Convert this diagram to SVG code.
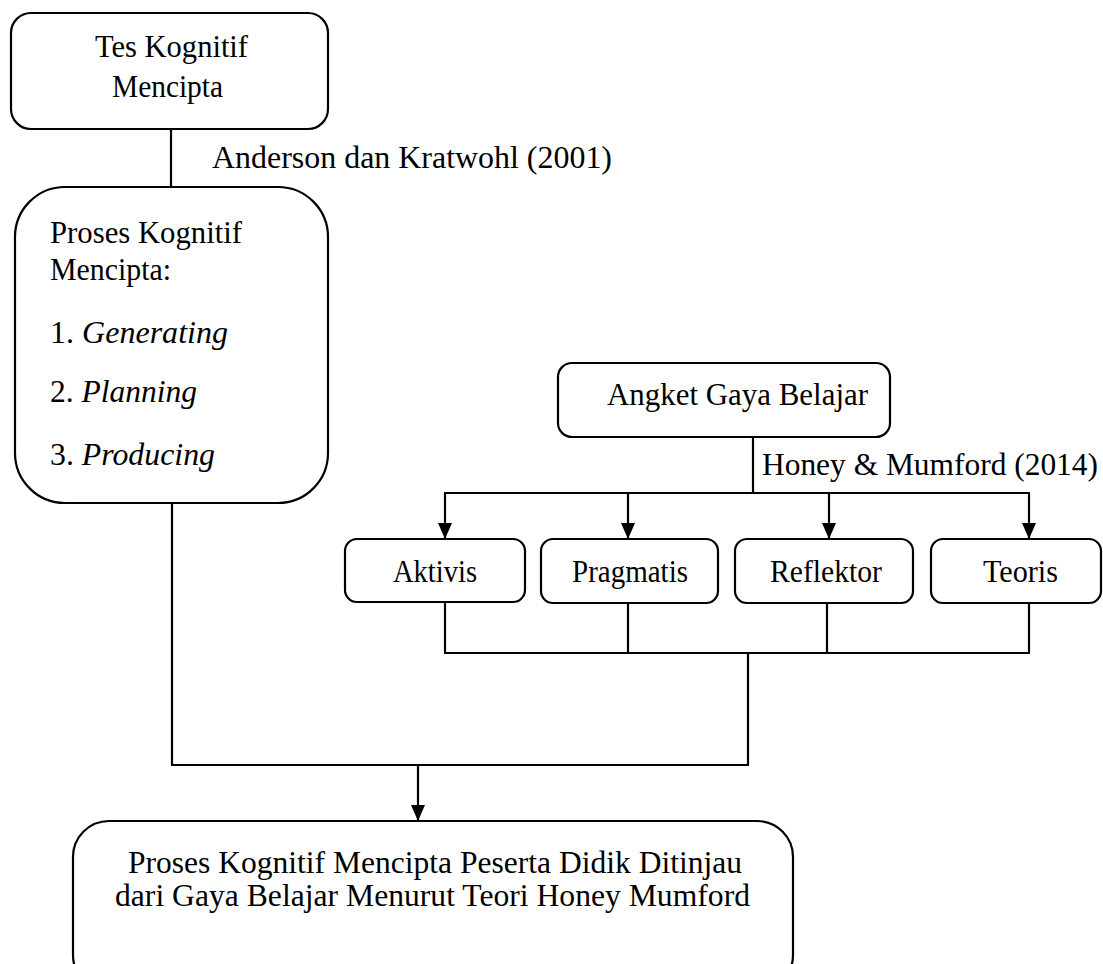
<svg xmlns="http://www.w3.org/2000/svg" width="1103" height="964" viewBox="0 0 1103 964" font-family="'Liberation Serif', 'Times New Roman', Times, serif">
<style>
.box{fill:#fff;stroke:#000;stroke-width:2.2}
.ln{fill:none;stroke:#000;stroke-width:2.2}
text{font-family:'Liberation Serif','Times New Roman',Times,serif;font-size:32px;fill:#000}
.it{font-style:italic}
</style>
<defs>
<marker id="arr" viewBox="0 0 16 14" refX="16" refY="7" markerWidth="16" markerHeight="14" markerUnits="userSpaceOnUse" orient="auto">
<path d="M0,0 L16,7 L0,14 Z" fill="#000"/>
</marker>
</defs>
<rect width="1103" height="964" fill="#fff"/>
<g id="connectors">
<line class="ln" x1="171" y1="129" x2="171" y2="187"/>
<line class="ln" x1="172" y1="503" x2="172" y2="765"/>
<line class="ln" x1="171" y1="765" x2="749" y2="765"/>
<line class="ln" x1="748" y1="653" x2="748" y2="765"/>
<line class="ln" x1="418" y1="765" x2="418" y2="821" marker-end="url(#arr)"/>
<line class="ln" x1="753" y1="437" x2="753" y2="493"/>
<line class="ln" x1="444" y1="493" x2="1030" y2="493"/>
<line class="ln" x1="445" y1="493" x2="445" y2="539" marker-end="url(#arr)"/>
<line class="ln" x1="628" y1="493" x2="628" y2="539" marker-end="url(#arr)"/>
<line class="ln" x1="829" y1="493" x2="829" y2="539" marker-end="url(#arr)"/>
<line class="ln" x1="1029" y1="493" x2="1029" y2="539" marker-end="url(#arr)"/>
<line class="ln" x1="445" y1="602" x2="445" y2="653"/>
<line class="ln" x1="628" y1="603" x2="628" y2="653"/>
<line class="ln" x1="827" y1="603" x2="827" y2="653"/>
<line class="ln" x1="1029" y1="603" x2="1029" y2="653"/>
<line class="ln" x1="444" y1="653" x2="1030" y2="653"/>
<text x="212" y="168" textLength="400" lengthAdjust="spacingAndGlyphs">Anderson  dan  Kratwohl  (2001)</text>
<text x="762" y="475" textLength="336" lengthAdjust="spacingAndGlyphs">Honey  &amp; Mumford  (2014)</text>
</g>
<g id="tes">
<rect class="box" x="11" y="13" width="317" height="116" rx="20"/>
<text x="95" y="57" textLength="153" lengthAdjust="spacingAndGlyphs">Tes Kognitif</text>
<text x="112" y="97" textLength="111" lengthAdjust="spacingAndGlyphs">Mencipta</text>
</g>
<g id="proses">
<rect class="box" x="15" y="187" width="313" height="316" rx="50"/>
<text x="50" y="243" textLength="192" lengthAdjust="spacingAndGlyphs">Proses Kognitif</text>
<text x="50" y="280" textLength="121" lengthAdjust="spacingAndGlyphs">Mencipta:</text>
<text x="50" y="343" textLength="178" lengthAdjust="spacingAndGlyphs">1. <tspan class="it">Generating</tspan></text>
<text x="50" y="402" textLength="147" lengthAdjust="spacingAndGlyphs">2. <tspan class="it">Planning</tspan></text>
<text x="50" y="465" textLength="165" lengthAdjust="spacingAndGlyphs">3. <tspan class="it">Producing</tspan></text>
</g>
<g id="angket">
<rect class="box" x="558" y="363" width="332" height="74" rx="14"/>
<text x="607" y="405" textLength="261" lengthAdjust="spacingAndGlyphs">Angket  Gaya  Belajar</text>
</g>
<g id="aktivis">
<rect class="box" x="345" y="539" width="180" height="63" rx="12"/>
<text x="393" y="582" textLength="84" lengthAdjust="spacingAndGlyphs">Aktivis</text>
</g>
<g id="pragmatis">
<rect class="box" x="541" y="539" width="177" height="64" rx="12"/>
<text x="572" y="582" textLength="116" lengthAdjust="spacingAndGlyphs">Pragmatis</text>
</g>
<g id="reflektor">
<rect class="box" x="735" y="539" width="178" height="64" rx="12"/>
<text x="770" y="582" textLength="112" lengthAdjust="spacingAndGlyphs">Reflektor</text>
</g>
<g id="teoris">
<rect class="box" x="931" y="539" width="170" height="64" rx="12"/>
<text x="983" y="582" textLength="75" lengthAdjust="spacingAndGlyphs">Teoris</text>
</g>
<g id="hasil">
<rect class="box" x="73" y="821" width="720" height="170" rx="36"/>
<text x="128" y="873" textLength="614" lengthAdjust="spacingAndGlyphs">Proses Kognitif  Mencipta  Peserta Didik  Ditinjau</text>
<text x="115" y="906" textLength="635" lengthAdjust="spacingAndGlyphs">dari Gaya  Belajar  Menurut  Teori  Honey Mumford</text>
</g>
</svg>
